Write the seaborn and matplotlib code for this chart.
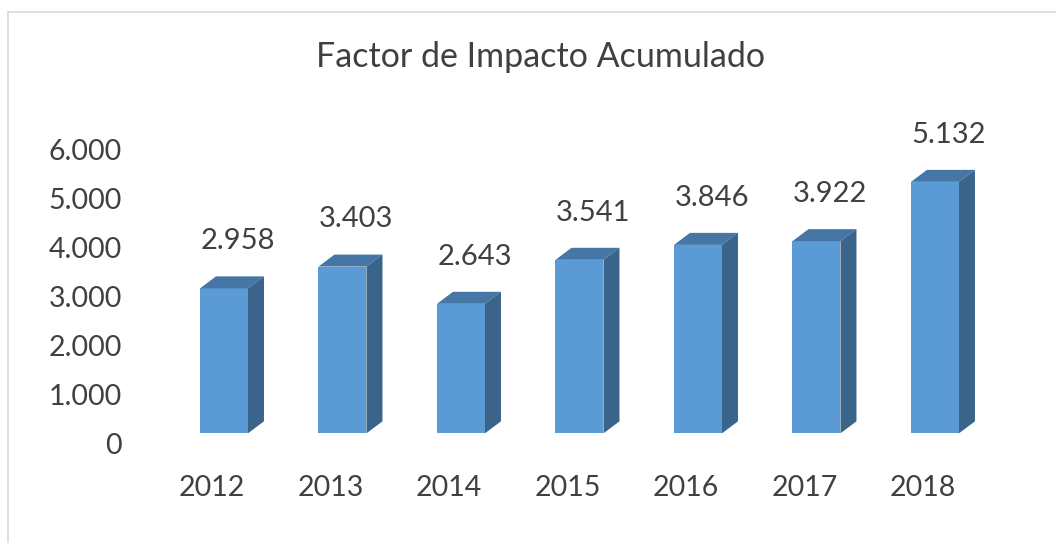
import numpy as np
import pandas as pd
import matplotlib
matplotlib.use("Agg")
import matplotlib.pyplot as plt
import matplotlib.transforms as mtransforms
from matplotlib.patches import Polygon
from matplotlib.lines import Line2D
import seaborn as sns

# data
years = ["2012", "2013", "2014", "2015", "2016", "2017", "2018"]
impact = [2958, 3403, 2643, 3541, 3846, 3922, 5132]
y_ticks = [0, 1000, 2000, 3000, 4000, 5000, 6000]

front_col = "#5B9BD5"
top_col = "#4676A6"
side_col = "#3A6489"
text_col = "#404040"

sns.set_theme(style="white")
plt.rcParams["font.family"] = ["Lato", "DejaVu Sans"]

df = pd.DataFrame({"year": years, "impact": impact})

fig = plt.figure(figsize=(10.56, 5.43), dpi=100)
ax = fig.add_axes([0.156, 0.202, 0.7855, 0.5414])

sns.barplot(data=df, x="year", y="impact", color=front_col, saturation=1,
            width=0.405, ax=ax, zorder=3)
ax.set_xlim(-0.5, len(years) - 0.5)
ax.set_ylim(0, 6000)
ax.set_yticks(y_ticks)
ax.set_yticklabels(["0" if v == 0 else f"{v:,}".replace(",", ".") for v in y_ticks])
ax.set_xlabel("")
ax.set_ylabel("")
sns.despine(ax=ax, left=True, bottom=True)
ax.tick_params(axis="y", length=0, pad=31, labelsize=20.5, labelcolor=text_col)
ax.tick_params(axis="x", length=0, pad=30, labelsize=20.5, labelcolor=text_col)

# shift tick labels like the 3D floor / wall in the original
for lab in ax.get_yticklabels():
    lab.set_transform(lab.get_transform() + mtransforms.ScaledTranslation(0, -10 / 100, fig.dpi_scale_trans))
for lab in ax.get_xticklabels():
    lab.set_transform(lab.get_transform() + mtransforms.ScaledTranslation(-12 / 100, 0, fig.dpi_scale_trans))

# fake 3D depth: top and side faces for every bar
fig.canvas.draw()
depth_px = (16, 12)
inv = ax.transData.inverted()
for p in ax.patches:
    p.set_edgecolor("none")
    x0, y0 = p.get_x(), p.get_y()
    x1, y1 = x0 + p.get_width(), y0 + p.get_height()
    d0 = ax.transData.transform([(x0, y0), (x1, y0), (x0, y1), (x1, y1)])
    dx, dy = depth_px
    top = [d0[2], d0[3], d0[3] + [dx, dy], d0[2] + [dx, dy]]
    side = [d0[1], d0[3], d0[3] + [dx, dy], d0[1] + [dx, dy]]
    ax.add_patch(Polygon(inv.transform(top), closed=True, facecolor=top_col,
                         edgecolor="none", zorder=3, clip_on=False))
    ax.add_patch(Polygon(inv.transform(side), closed=True, facecolor=side_col,
                         edgecolor="none", zorder=3, clip_on=False))

# data labels
for i, v in enumerate(impact):
    ax.annotate(f"{v:,}".replace(",", "."), xy=(i, v), xytext=(10, 34),
                textcoords="offset points", ha="center", va="center",
                fontsize=21, color=text_col, annotation_clip=False)

fig.text(0.5115, 0.877, "Factor de Impacto Acumulado", ha="center", va="baseline",
         fontsize=24.5, color=text_col)

# chart area frame (only top and left visible in the crop)
fig.add_artist(Line2D([8 / 1056, 8 / 1056], [0, 1 - 12 / 543], color="#D9D9D9", lw=1.2))
fig.add_artist(Line2D([8 / 1056, 1], [1 - 12 / 543, 1 - 12 / 543], color="#D9D9D9", lw=1.2))

fig.savefig("out.png", dpi=100)
